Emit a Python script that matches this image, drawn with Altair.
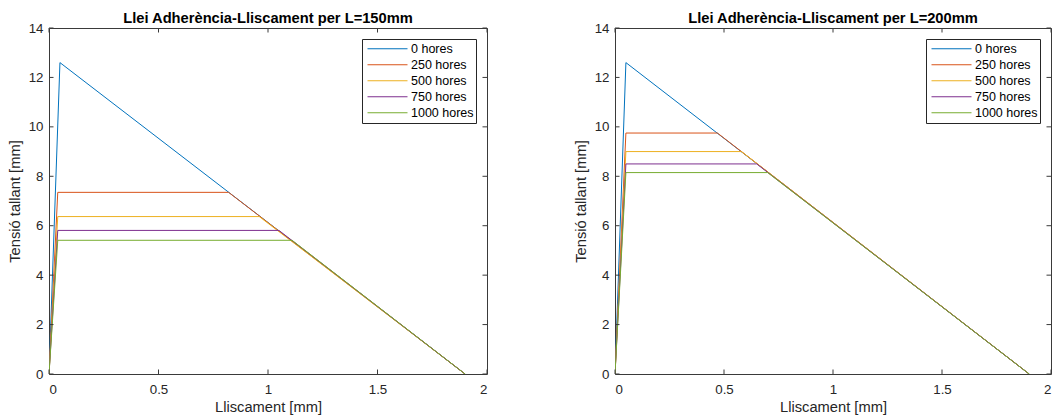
import altair as alt
import pandas as pd

# ---- data ----
series = ["0 hores", "250 hores", "500 hores", "750 hores", "1000 hores"]
colors = ["#0072BD", "#D95319", "#EDB120", "#7E2F8E", "#77AC30"]

# L = 150 mm
peak_slip_150 = [0.05, 0.04, 0.04, 0.04, 0.04]
peak_tau_150 = [12.6, 7.35, 6.37, 5.81, 5.41]
plateau_end_150 = [0.05, 0.82, 0.96, 1.05, 1.11]

# L = 200 mm
peak_slip_200 = [0.05, 0.05, 0.05, 0.05, 0.05]
peak_tau_200 = [12.6, 9.75, 9.0, 8.5, 8.15]
plateau_end_200 = [0.05, 0.47, 0.58, 0.65, 0.70]

ultimate_slip = [1.9, 1.9, 1.9, 1.9, 1.9]

x_ticks = [0, 0.5, 1, 1.5, 2]
y_ticks = [0, 2, 4, 6, 8, 10, 12, 14]

FONT = "Liberation Sans"
FRAME = "#3a3a3a"
TICK = 4.5


def build_df(peak_slip, peak_tau, plateau_end):
    rows = []
    for k, name in enumerate(series):
        pts = [
            (0.0, 0.0),
            (peak_slip[k], peak_tau[k]),
            (plateau_end[k], peak_tau[k]),
            (ultimate_slip[k], 0.0),
        ]
        for i, (s, t) in enumerate(pts):
            rows.append({"serie": name, "i": i, "s": s, "t": t})
    return pd.DataFrame(rows)


def panel(df, title, W, H):
    xs = alt.Scale(domain=[0, 2], nice=False, zero=False)
    ys = alt.Scale(domain=[0, 14], nice=False)
    xax = alt.Axis(values=x_ticks, format="~g", title="Lliscament [mm]",
                   labelPadding=8, titlePadding=4)
    yax = alt.Axis(values=y_ticks, title="Tensió tallant [mm]",
                   labelPadding=6, titlePadding=6)
    lines = alt.Chart(df).mark_line(strokeWidth=1, clip=True).encode(
        x=alt.X("s:Q", scale=xs, axis=xax),
        y=alt.Y("t:Q", scale=ys, axis=yax),
        color=alt.Color(
            "serie:N",
            scale=alt.Scale(domain=series, range=colors),
            legend=alt.Legend(
                title=None, orient="none", legendX=W - 125, legendY=11,
                strokeColor="#262626", fillColor="white", padding=2,
                symbolType="stroke", symbolSize=1600, symbolStrokeWidth=1,
                symbolOffset=3, labelOffset=3, clipHeight=15.5, rowPadding=0,
                labelFont=FONT, labelFontSize=12.5, labelColor="#000000",
                cornerRadius=0,
            ),
        ),
        order="i:Q",
    )
    xt = pd.DataFrame({"s": x_ticks})
    yt = pd.DataFrame({"t": y_ticks})
    tick_style = dict(color=FRAME, strokeWidth=1)
    bottom = alt.Chart(xt).mark_rule(**tick_style).encode(
        x=alt.X("s:Q", scale=xs, axis=xax), y=alt.value(H), y2=alt.value(H - TICK))
    top = alt.Chart(xt).mark_rule(**tick_style).encode(
        x=alt.X("s:Q", scale=xs, axis=xax), y=alt.value(0), y2=alt.value(TICK))
    left = alt.Chart(yt).mark_rule(**tick_style).encode(
        y=alt.Y("t:Q", scale=ys, axis=yax), x=alt.value(0), x2=alt.value(TICK))
    right = alt.Chart(yt).mark_rule(**tick_style).encode(
        y=alt.Y("t:Q", scale=ys, axis=yax), x=alt.value(W), x2=alt.value(W - TICK))
    return alt.layer(lines, bottom, top, left, right).properties(
        width=W, height=H,
        title=alt.TitleParams(title, anchor="middle", frame="group", fontSize=14.7,
                              fontWeight="bold", font=FONT, color="#000000", offset=-5),
    )


df150 = build_df(peak_slip_150, peak_tau_150, plateau_end_150)
df200 = build_df(peak_slip_200, peak_tau_200, plateau_end_200)

p1 = panel(df150, "Llei Adherència-Lliscament per L=150mm", 438, 346)
p2 = panel(df200, "Llei Adherència-Lliscament per L=200mm", 436, 346)

chart = alt.hconcat(p1, p2, spacing=84).resolve_legend(color="independent").properties(
    padding={"left": 6, "top": 10, "right": 0, "bottom": 0},
).configure_view(stroke=FRAME, strokeWidth=1).configure_axis(
    labelFont=FONT, labelFontSize=13.3, labelColor="#262626",
    titleFont=FONT, titleFontSize=14.7, titleFontWeight="normal", titleColor="#262626",
    ticks=False, domain=False, grid=False,
)

chart.save("out.html", embed_options={"renderer": "svg", "actions": False})
